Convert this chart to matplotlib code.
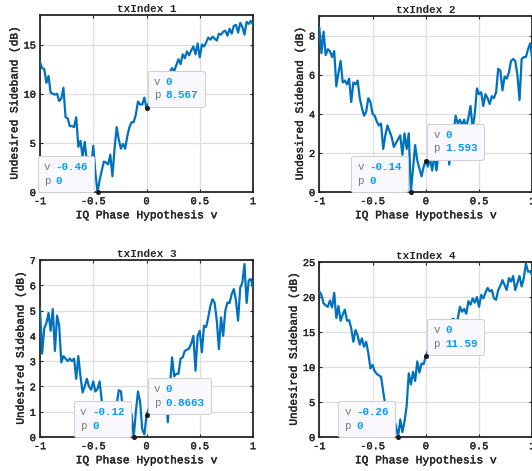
import numpy as np
import matplotlib
matplotlib.use("Agg")
import matplotlib.pyplot as plt
import matplotlib.patheffects as pe
from matplotlib.offsetbox import TextArea, HPacker, VPacker, AnnotationBbox

# Phase hypothesis grid (step 0.02)
phase = np.round(np.linspace(-1.0, 1.0, 101), 2)

# Undesired sideband level (dB, relative to the best hypothesis) per transmitter
usb_tx1 = [13.2, 12.6, 12.5, 11.1, 11.8, 10.1, 10.0, 9.9, 10.0, 9.25,
           9.5, 10.6, 7.6, 7.5, 6.7, 6.7, 6.6, 7.6, 4.6, 5.2,
           3.6, 5.1, 3.1, 3.4, 2.5, 4.7, 2.0, 0.0, 1.2, 2.2,
           3.1, 3.0, 2.8, 3.8, 1.6, 4.4, 6.6, 5.3, 4.4, 4.9,
           4.4, 5.7, 6.6, 7.1, 7.1, 7.9, 9.2, 8.9, 8.9, 9.6,
           8.567,
           9.0, 9.5, 9.2, 10.0, 10.4, 10.1, 10.8, 11.2, 11.0, 11.8,
           12.2, 12.6, 12.3, 12.9, 13.5, 13.0, 14.0, 13.6, 14.3, 13.9,
           14.4, 14.8, 14.0, 15.1, 13.7, 15.0, 14.8, 15.2, 15.7, 15.5,
           15.8, 15.6, 15.4, 16.1, 16.0, 16.3, 16.4, 15.9, 16.6, 16.1,
           16.9, 17.0, 16.2, 17.2, 16.8, 16.0, 17.3, 17.1, 17.4, 17.0]

usb_tx2 = [8.4, 7.1, 8.2, 7.0, 7.3, 7.2, 6.9, 7.2, 5.4, 6.1,
           6.7, 5.6, 5.7, 5.5, 5.8, 4.6, 5.6, 5.5, 5.7, 4.8,
           4.3, 3.9, 4.1, 4.8, 4.6, 4.0, 3.9, 3.6, 3.4, 3.5,
           2.2, 2.9, 3.4, 3.1, 2.8, 2.3, 2.5, 2.7, 2.9, 1.9,
           3.0, 2.2, 3.0, 0.0, 1.2, 2.4, 1.6, 1.2, 0.8, 1.3,
           1.593,
           1.3, 1.7, 1.1, 1.9, 1.1, 2.0, 2.3, 2.6, 2.2, 2.8,
           1.4, 2.5, 3.0, 3.9, 3.5, 3.7, 3.4, 3.7, 3.3, 3.8,
           4.4, 3.2, 4.0, 5.3, 5.0, 5.1, 4.4, 5.0, 4.8, 4.5,
           4.9, 4.8, 5.1, 6.3, 6.2, 5.2, 5.9, 5.8, 6.1, 6.7,
           6.8, 6.7, 6.0, 4.7, 6.8, 6.9, 6.9, 7.3, 7.6, 6.75]

usb_tx3 = [5.06, 3.3, 4.3, 4.5, 4.9, 4.2, 5.06, 3.4, 4.8, 4.4,
           2.95, 3.2, 3.1, 3.0, 3.1, 3.0, 3.1, 2.3, 3.2, 2.4,
           1.76, 2.0, 2.3, 2.0, 1.87, 2.2, 1.8, 1.9, 2.2, 1.43,
           1.2, 1.3, 1.0, 1.1, 0.8, 1.2, 1.3, 1.85, 1.8, 1.0,
           0.8, 1.2, 0.5, 0.9, 0.0, 1.0, 1.8, 1.4, 0.3, 0.1,
           0.8663,
           1.1, 1.3, 1.0, 1.5, 1.2, 1.7, 1.4, 2.2, 2.0, 0.58,
           2.0, 3.15, 2.4, 2.5, 2.5, 3.1, 3.15, 3.41, 3.45, 3.5,
           3.7, 4.0, 2.62, 4.0, 4.2, 3.35, 4.4, 4.35, 4.73, 5.19,
           5.45, 5.3, 4.6, 3.48, 4.73, 4.0, 5.0, 5.32, 5.3, 5.65,
           5.85, 5.4, 4.6, 5.9, 6.1, 6.84, 5.3, 6.2, 6.25, 5.9]

usb_tx4 = [20.8, 20.3, 19.1, 18.8, 18.6, 19.5, 18.5, 20.6, 17.0, 18.7,
           16.6, 17.5, 18.2, 16.6, 16.7, 15.5, 13.6, 15.3, 14.5, 13.2,
           14.1, 12.9, 13.6, 12.0, 9.8, 10.3, 9.4, 9.0, 8.8, 8.6,
           6.5, 4.5, 3.0, 3.8, 2.0, 2.8, 1.5, 0.0, 2.5, 0.7,
           2.2, 4.4, 9.1, 7.5, 9.3, 8.0, 10.8, 9.2, 10.5, 10.4,
           11.59,
           12.3, 13.0, 12.6, 13.5, 14.2, 13.8, 14.9, 15.2, 14.8, 15.8,
           16.2, 16.7, 16.9, 16.3, 16.9, 18.6, 17.9, 18.3, 17.6, 19.4,
           18.9, 19.8, 19.2, 20.0, 18.6, 20.3, 19.8, 20.6, 21.3, 20.8,
           21.0, 19.8, 19.6, 21.0, 21.6, 22.4, 21.7, 21.0, 22.7, 22.2,
           23.0, 21.0, 22.0, 23.0, 21.5, 22.7, 24.8, 23.6, 23.7, 23.0]

series = [usb_tx1, usb_tx2, usb_tx3, usb_tx4]
titles = ["txIndex 1", "txIndex 2", "txIndex 3", "txIndex 4"]
y_tops = [18, 9, 7, 25]
y_ticks = [[0, 5, 10, 15], [0, 2, 4, 6, 8], [0, 1, 2, 3, 4, 5, 6, 7], [0, 5, 10, 15, 20, 25]]
x_ticks = [-1, -0.5, 0, 0.5, 1]

FONT = "Liberation Mono"
INK = "#262626"
LINE = "#0072BD"
TIP_NAME = "#7A7A7A"
TIP_VALUE = "#0099FF"

plt.rcParams["font.family"] = [FONT, "DejaVu Sans Mono"]

# slight stroke so the small monospace text reads a little heavier
heavy = [pe.withStroke(linewidth=0.3, foreground=INK)]

W, H = 532, 471
fig = plt.figure(figsize=(W / 100, H / 100), dpi=100)
fig.patch.set_facecolor("white")

# axes boxes in pixels: left, top, width, height
boxes = [(40, 15, 213, 177), (319.3, 16, 213, 176),
         (40, 260, 213, 177), (319.3, 262, 213, 175)]


def fmt(v):
    return f"{v:.4g}"


def datatip(ax, x, y, align, offset):
    rows = []
    for name, val in (("v", x), ("p", y)):
        t_name = TextArea(name, textprops=dict(color=TIP_NAME, fontsize=7.8, family=FONT))
        t_val = TextArea(fmt(val), textprops=dict(color=TIP_VALUE, fontsize=7.8,
                                                  family=FONT, fontweight="bold"))
        rows.append(HPacker(children=[t_name, t_val], align="baseline", pad=0, sep=3.9))
    box = VPacker(children=rows, align="left", pad=4.5, sep=2.6)
    ab = AnnotationBbox(box, (x, y), xybox=offset, xycoords="data",
                        boxcoords="offset points", box_alignment=align,
                        frameon=True, pad=0, annotation_clip=False,
                        bboxprops=dict(boxstyle="round,pad=0,rounding_size=0.18",
                                       fc="#F9F9FD", ec="#CFCFCF", lw=0.7))
    ab.set_zorder(6)
    ax.add_artist(ab)
    ax.plot([x], [y], "o", ms=2.6, color="#1A1A1A", mec="#1A1A1A",
            clip_on=False, zorder=7)


for k, (vals, title, ytop, yt, (l, t, w, h)) in enumerate(
        zip(series, titles, y_tops, y_ticks, boxes)):
    ax = fig.add_axes([l / W, 1 - (t + h) / H, w / W, h / H])
    vals = np.asarray(vals, dtype=float)
    ax.plot(phase, vals, color=LINE, lw=1.6, zorder=3)
    ax.set_xlim(-1, 1)
    ax.set_ylim(0, ytop)
    ax.set_xticks(x_ticks)
    ax.set_xticklabels([f"{v:g}" for v in x_ticks])
    ax.set_yticks(yt)
    ax.set_yticklabels([f"{v:g}" for v in yt])
    ax.grid(True, color="#DEDEDE", lw=0.9)
    ax.set_axisbelow(True)
    for s in ax.spines.values():
        s.set_color(INK)
        s.set_linewidth(1.3)
    ax.tick_params(direction="in", top=True, right=True, length=2.5, width=0.8,
                   colors=INK, labelsize=7.4, pad=3)
    for lab in ax.get_xticklabels() + ax.get_yticklabels():
        lab.set_path_effects(heavy)
    ttl = ax.set_title(title, fontsize=7.9, fontweight="bold", color=INK, pad=2.5)
    xl = ax.set_xlabel("IQ Phase Hypothesis v", fontsize=8.1, color=INK, labelpad=3)
    yl = ax.set_ylabel("Undesired Sideband (dB)", fontsize=8.0, color=INK, labelpad=3)
    xl.set_path_effects(heavy)
    yl.set_path_effects(heavy)

    i_min = int(np.argmin(vals))
    i_zero = int(np.argmin(np.abs(phase)))
    datatip(ax, phase[i_min], vals[i_min], (1, 0), (-2.2, 0))
    datatip(ax, phase[i_zero], vals[i_zero], (0, 0), (0.8, 0.8))

fig.savefig("out.png", dpi=100, facecolor="white")
